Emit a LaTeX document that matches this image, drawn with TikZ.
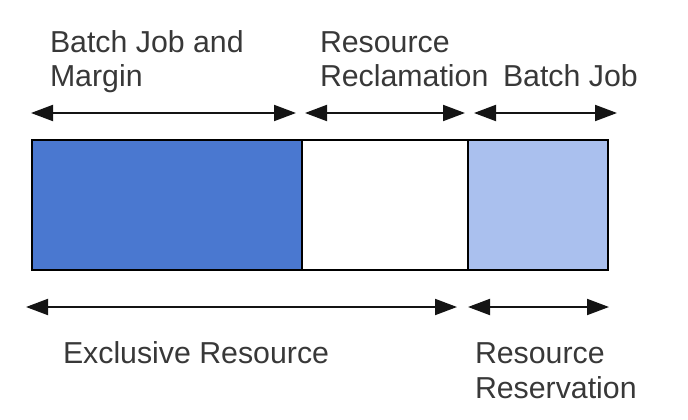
\documentclass[tikz,border=0pt]{standalone}
\usepackage{fontspec}
\setmainfont{Liberation Sans}
\usetikzlibrary{arrows.meta}
\definecolor{darkblue}{HTML}{4A78D0}
\definecolor{lightblue}{HTML}{AAC0EE}
\definecolor{txt}{HTML}{383838}
\tikzset{
  seg/.style={draw=black, line width=2.2pt, inner sep=0pt, outer sep=0pt},
  span/.style={line width=2pt, draw=black!92, >={Triangle[length=22pt,width=16pt]}, <->},
  lbl/.style={anchor=base west, inner sep=0pt, outer sep=0pt, text=txt, align=left,
    font=\fontsize{30.3}{35}\selectfont},
}
\begin{document}
\begin{tikzpicture}[x=1pt,y=-1pt]
\useasboundingbox (0,0) rectangle (688,420);
% segments
\node[seg, fill=darkblue, minimum width=270pt, minimum height=130pt, anchor=north west] (excl) at (32,140) {};
\node[seg, fill=white, minimum width=166pt, minimum height=130pt, anchor=north west] (recl) at (302,140) {};
\node[seg, fill=lightblue, minimum width=140pt, minimum height=130pt, anchor=north west] (resv) at (468,140) {};
% arrow end points
\coordinate (t1a) at (31,113);  \coordinate (t1b) at (296,113);
\coordinate (t2a) at (305,113); \coordinate (t2b) at (465,113);
\coordinate (t3a) at (474,113); \coordinate (t3b) at (617,113);
\coordinate (b1a) at (26,307);  \coordinate (b1b) at (457,307);
\coordinate (b2a) at (468,307); \coordinate (b2b) at (609,307);
\draw[span] (t1a) -- (t1b);
\draw[span] (t2a) -- (t2b);
\draw[span] (t3a) -- (t3b);
\draw[span] (b1a) -- (b1b);
\draw[span] (b2a) -- (b2b);
% labels (base anchor = baseline of the last line)
\node[lbl] (l1) at (50,87) {Batch Job and\\Margin};
\node[lbl] (l2) at (320,87) {Resource\\Reclamation};
\node[lbl] (l3) at (503,87) {Batch Job};
\node[lbl] (l4) at (63,363) {Exclusive Resource};
\node[lbl] (l5) at (475,398) {Resource\\Reservation};
\end{tikzpicture}
\end{document}
